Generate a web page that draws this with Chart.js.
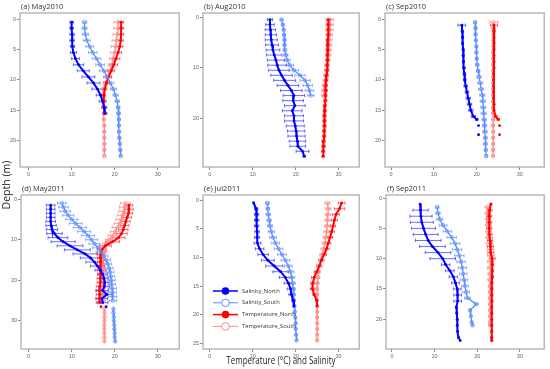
<!DOCTYPE html>
<html>
<head>
<meta charset="utf-8">
<script src="https://cdn.jsdelivr.net/npm/chart.js@4.4.1/dist/chart.umd.min.js"></script>
<style>
body { margin: 0; background: #fff; }
#wrap { position: relative; width: 550px; height: 369px; overflow: hidden; font-family: 'Open Sans', sans-serif; }
#wrap canvas { position: absolute; }
#ylab { position: absolute; left: -24px; top: 178px; width: 60px; text-align: center; font-size: 10.5px; color: #222; transform: rotate(-90deg); }
#xlab { position: absolute; left: 181px; top: 353px; width: 200px; text-align: center; font-size: 10px; color: #222; transform: scaleX(0.8); }
</style>
</head>
<body>
<div id="wrap">
  <canvas id="pa"></canvas>
  <canvas id="pb"></canvas>
  <canvas id="pc"></canvas>
  <canvas id="pd"></canvas>
  <canvas id="pe"></canvas>
  <canvas id="pf"></canvas>
  <div id="ylab">Depth (m)</div>
  <div id="xlab">Temperature (°C) and Salinity</div>
</div>
<script>
// 시리즈 이름
const seriesNames = ['Salinity_North', 'Salinity_South', 'Temperature_North', 'Temperature_South'];
const xTicks = [0, 10, 20, 30];

// (a) May2010
const aDepthN = [0.5,1.5,2.5,3.5,4.5,5.5,6.5,7.5,8.5,9.5,10.5,11.5,12.5,13.5,14.5,15.5];
const aSalN = [10.0,10.0,10.1,10.1,10.2,10.4,10.9,11.6,12.7,13.9,15.1,16.0,16.7,17.2,17.6,17.7];
const aSalNErr = [0.4,0.4,0.5,0.5,0.5,0.7,0.9,1.2,1.4,1.5,1.5,1.3,1.0,0.8,0.6,0.5];
const aTempN = [21.5,21.5,21.5,21.4,21.2,20.8,20.3,19.8,19.2,18.6,18.1,17.7,17.5,17.4,17.5,17.7];
const aTempNErr = [0.6,0.6,0.6,0.6,0.7,0.8,0.9,0.9,0.8,0.7,0.6,0.5,0.4,0.4,0.4,0.4];
const aDepthS = [0.5,1.5,2.5,3.5,4.5,5.5,6.5,7.5,8.5,9.5,10.5,11.5,12.5,13.5,14.5,15.5,16.5,17.5,18.5,19.5,20.5,21.5,22.5];
const aSalS = [13.0,13.0,13.2,13.5,14.2,14.9,15.8,16.6,17.5,18.3,19.0,19.7,20.2,20.6,20.8,20.9,21.0,21.0,21.0,21.1,21.2,21.3,21.4];
const aSalSErr = [0.5,0.6,0.7,0.8,0.9,1.0,1.0,1.0,1.0,0.9,0.8,0.7,0.6,0.5,0.4,0.4,0.3,0.3,0.3,0.3,0.3,0.3,0.3];
const aTempS = [20.8,20.8,20.6,20.4,20.2,20.0,19.7,19.3,18.9,18.3,17.8,17.4,17.4,17.4,17.4,17.5,17.5,17.6,17.6,17.6,17.6,17.6,17.6];
const aTempSErr = [1.0,1.0,1.0,1.0,1.0,1.0,0.9,0.8,0.7,0.6,0.5,0.4,0.3,0.3,0.3,0.3,0.3,0.3,0.3,0.3,0.3,0.3,0.3];

// (b) Aug2010
const bDepthN = [0.5,1.5,2.5,3.5,4.5,5.5,6.5,7.5,8.5,9.5,10.5,11.5,12.5,13.5,14.5,15.5,16.5,17.5,18.5,19.5,20.5,21.5,22.5,23.5,24.5,25.5,26.5,27.5];
const bSalN = [14.0,14.0,14.1,14.2,14.3,14.5,14.7,15.0,15.4,15.7,16.1,16.7,17.4,18.2,19.0,19.6,19.4,19.8,19.2,19.6,19.6,19.9,20.1,20.2,20.4,20.5,21.6,22.0];
const bSalNErr = [0.6,1.0,1.2,1.3,1.4,1.5,1.6,1.8,2.0,2.2,2.4,2.5,2.5,2.5,2.5,2.5,2.4,2.4,2.3,2.2,2.2,2.1,2.0,2.0,1.9,1.8,1.5,0.3];
const bTempN = [27.6,27.6,27.6,27.6,27.5,27.5,27.5,27.4,27.4,27.3,27.3,27.2,27.1,27.0,27.0,26.9,26.9,26.8,26.8,26.7,26.7,26.7,26.6,26.6,26.5,26.5,26.4,26.4];
const bTempNErr = [0.5,0.5,0.5,0.5,0.4,0.4,0.4,0.4,0.4,0.4,0.4,0.4,0.4,0.4,0.4,0.4,0.4,0.4,0.4,0.4,0.4,0.4,0.4,0.4,0.4,0.4,0.4,0.3];
const bDepthS = [0.5,1.5,2.5,3.5,4.5,5.5,6.5,7.5,8.5,9.5,10.5,11.5,12.5,13.5,14.5,15.5];
const bSalS = [16.7,17.0,17.2,17.3,17.4,17.4,17.5,17.7,18.0,18.6,19.6,21.0,22.2,22.8,23.2,23.5];
const bSalSErr = [0.3,0.3,0.3,0.3,0.3,0.3,0.4,0.5,0.7,0.9,1.1,1.2,1.2,1.1,1.0,0.8];
const bTempS = [28.0,28.0,27.9,27.9,27.8,27.8,27.7,27.6,27.5,27.3,27.2,27.0,26.9,26.7,26.6,26.5];
const bTempSErr = [0.8,0.8,0.8,0.7,0.7,0.6,0.6,0.6,0.5,0.5,0.5,0.5,0.5,0.5,0.5,0.5];

// (c) Sep2010  (null = 끊어진 구간)
const cDepthN = [1,2,3,4,5,6,7,8,9,10,11,12,13,14,15,16,16.5,17,17.5,18.2,19];
const cSalN = [16.5,16.6,16.7,16.7,16.8,16.8,16.9,17.0,17.1,17.2,17.4,17.7,18.0,18.3,18.6,19.2,20.0,null,20.4,null,20.4];
const cSalNErr = [0.9,0.2,0.2,0.2,0.2,0.2,0.2,0.3,0.3,0.3,0.4,0.4,0.5,0.5,0.5,0.5,0.3,0,0,0,0];
const cTempN = [24.0,24.0,24.0,24.0,24.0,24.0,24.0,24.0,23.9,23.9,23.9,23.9,23.9,24.0,24.0,24.4,25.0,null,25.3,null,25.3];
const cTempNErr = [0.8,0.3,0.2,0.2,0.2,0.2,0.2,0.2,0.2,0.2,0.2,0.2,0.2,0.2,0.2,0.3,0.3,0,0,0,0];
const cDepthS = [0.5,1.5,2.5,3.5,4.5,5.5,6.5,7.5,8.5,9.5,10.5,11.5,12.5,13.5,14.5,15.5,16.5,17.5,18.5,19.5,20.5,21.5,22.5];
const cSalS = [19.6,19.7,19.7,19.8,19.9,19.9,20.0,20.1,20.3,20.5,20.8,21.0,21.3,21.4,21.5,21.6,21.7,21.8,21.9,22.0,22.0,22.1,22.2];
const cSalSErr = [0.3,0.3,0.3,0.3,0.3,0.3,0.3,0.4,0.4,0.5,0.6,0.6,0.6,0.6,0.6,0.6,0.5,0.5,0.5,0.4,0.4,0.3,0.3];
const cTempS = [23.9,23.9,23.9,23.9,23.9,23.8,23.8,23.8,23.8,23.8,23.8,23.8,23.8,23.8,23.8,23.8,23.8,23.8,23.8,23.8,23.8,23.8,23.8];
const cTempSErr = [1.0,0.4,0.3,0.3,0.3,0.3,0.3,0.3,0.3,0.3,0.3,0.3,0.3,0.3,0.3,0.3,0.3,0.3,0.3,0.3,0.3,0.3,0.3];

// (d) May2011
const dDepthN = [1.5,2.5,3.5,4.5,5.5,6.5,7.5,8.5,9.5,10.5,11.5,12.5,13.5,14.5,15.5,16.5,17.5,18.5,19.5,20.5,21.5,22.5,23.5,24.5,25.5,26,26.5];
const dSalN = [5.1,5.1,5.1,5.1,5.1,5.2,5.4,6.0,6.8,8.0,9.6,11.3,13.1,14.4,15.3,16.0,16.7,17.2,17.5,17.7,17.6,17.2,18.2,17.0,17.2,null,18.0];
const dSalNErr = [1.0,1.0,1.0,1.0,1.1,1.2,1.3,1.8,2.3,2.8,3.0,3.0,2.8,2.4,2.0,1.6,1.3,1.1,1.0,1.0,1.2,1.4,1.4,1.3,1.2,0,0];
const dTempN = [23.3,23.3,23.2,22.9,22.6,22.3,22.0,21.6,20.9,19.5,17.8,17.0,16.8,16.7,16.7,16.7,16.7,16.7,16.6,16.6,16.5,16.4,16.5,16.4,16.5,null,16.8];
const dTempNErr = [0.9,1.0,1.0,1.0,1.0,1.0,1.1,1.3,1.5,1.6,1.4,1.0,0.8,0.7,0.7,0.7,0.7,0.7,0.7,0.7,0.8,0.8,0.8,0.8,0.8,0,0];
const dDepthS = [1,2,3,4,5,6,7,8,9,10,11,12,13,14,15,16,17,18,19,20,21,22,23,24,25,26,27,28,29,30,31,32,33,34,35];
const dSalS = [7.7,8.1,8.5,9.2,10.0,10.9,11.9,12.9,13.8,14.6,15.3,16.1,16.8,17.4,18.0,18.4,18.7,18.9,19.1,19.2,19.3,19.4,19.4,19.5,19.6,null,19.7,19.7,19.8,19.8,19.9,19.9,20.0,20.0,20.1];
const dSalSErr = [1.0,1.1,1.2,1.3,1.4,1.5,1.5,1.5,1.5,1.4,1.3,1.2,1.1,1.0,1.0,0.9,0.9,0.9,0.9,0.9,0.9,1.0,1.0,1.0,0.9,0,0.1,0.1,0.1,0.1,0.1,0.1,0.1,0.1,0.1];
const dTempS = [22.5,22.3,22.1,21.8,21.5,21.1,20.6,20.1,19.5,18.7,18.0,17.4,17.3,17.2,17.2,17.2,17.2,17.2,17.2,17.2,17.2,17.2,17.2,17.2,17.2,null,17.6,17.6,17.6,17.6,17.6,17.6,17.6,17.6,17.6];
const dTempSErr = [1.2,1.2,1.2,1.2,1.2,1.2,1.2,1.1,1.0,0.9,0.8,0.7,0.7,0.7,0.6,0.6,0.6,0.6,0.6,0.6,0.6,0.6,0.6,0.6,0.6,0,0.1,0.1,0.1,0.1,0.1,0.1,0.1,0.1,0.1];

// (e) Jul2011
const eDepthN = [0.5,1.5,2.5,3.5,4.5,5.5,6.5,7.5,8.5,9.5,10.5,11.5,12.5,13.5,14.5,15.5,16.5,17.5,18.5];
const eSalN = [10.2,10.8,10.9,10.9,10.9,11.0,11.0,11.1,11.6,12.4,13.5,15.0,16.5,17.6,18.3,18.8,19.0,19.4,19.6];
const eSalNErr = [0.1,0.4,0.5,0.5,0.5,0.5,0.6,0.8,1.0,1.2,1.5,2.0,1.8,1.4,1.0,0.8,0.6,0.3,0.2];
const eTempN = [30.7,30.2,29.4,29.0,28.7,28.4,28.0,27.6,27.2,26.6,26.0,25.5,24.9,24.3,24.0,23.9,24.3,24.9,25.0];
const eTempNErr = [0.8,1.2,0.8,0.7,0.6,0.6,0.6,0.6,0.6,0.6,0.6,0.6,0.6,0.6,0.5,0.5,0.3,0.2,0.2];
const eDepthS = [0.5,1.5,2.5,3.5,4.5,5.5,6.5,7.5,8.5,9.5,10.5,11.5,12.5,13.5,14.5,15.5,16.5,17.5,18.5,19.5,20.5,21.5,22.5,23.5,24.5];
const eSalS = [13.4,13.5,13.6,13.8,14.0,14.3,14.7,15.3,16.0,16.8,17.6,18.3,18.8,19.1,19.3,19.4,19.5,19.6,19.7,19.8,19.9,20.0,20.0,20.1,20.2];
const eSalSErr = [0.4,0.4,0.5,0.5,0.6,0.7,0.8,0.9,1.0,1.0,1.0,0.9,0.8,0.7,0.6,0.5,0.4,0.3,0.2,0.2,0.2,0.2,0.2,0.2,0.2];
const eTempS = [27.4,27.6,27.5,27.4,27.3,27.2,27.0,26.8,26.5,26.2,25.8,25.5,25.3,25.2,25.1,25.0,25.0,25.0,25.0,25.0,25.0,25.0,25.0,25.0,25.0];
const eTempSErr = [0.6,0.6,0.6,0.6,0.6,0.6,0.6,0.6,0.6,0.6,0.5,0.5,0.4,0.4,0.3,0.2,0.2,0.2,0.2,0.2,0.2,0.2,0.2,0.2,0.2];

// (f) Sep2011
const fDepthN = [1,2,3,4,5,6,7,8,9,10,11,12,13,14,15,16,17,18,19,20,21,22,23,23.5];
const fSalN = [6.6,6.7,6.8,7.0,7.4,7.9,8.5,9.5,10.8,11.9,12.6,13.6,14.4,14.9,15.3,15.4,15.4,15.1,15.2,15.3,15.3,15.4,15.6,16.0];
const fSalNErr = [0,1.8,2.6,2.7,2.8,2.9,3.0,3.0,3.0,3.0,1.0,1.0,1.0,0.9,0.9,0.9,0.9,0.1,0.1,0.1,0.1,0.1,0.1,0];
const fTempN = [23.2,22.9,22.8,22.8,22.8,22.9,23.0,23.1,23.2,23.5,23.5,23.5,23.5,23.4,23.4,23.4,23.4,23.4,23.4,23.4,23.4,23.4,23.4,23.4];
const fTempNErr = [0.2,0.6,0.6,0.6,0.6,0.6,0.6,0.7,0.7,0.7,0.4,0.3,0.3,0.3,0.3,0.3,0.3,0.2,0.2,0.2,0.2,0.2,0.2,0.2];
const fDepthS = [1.5,2.5,3.5,4.5,5.5,6.5,7.5,8.5,9.5,10.5,11.5,12.5,13.5,14.5,15.5,16.5,17.5,18.5,19.5,20.5,21];
const fSalS = [10.6,10.8,11.2,12.0,13.0,14.0,14.8,15.3,15.8,16.2,16.5,16.7,16.9,17.1,17.4,17.7,19.8,18.3,18.5,18.7,18.9];
const fSalSErr = [0.4,0.5,0.7,0.9,1.0,1.1,1.1,1.1,1.1,1.0,1.0,0.9,0.9,0.8,0.8,0.7,0.4,0.2,0.2,0.2,0.2];
const fTempS = [22.4,22.4,22.5,22.6,22.7,22.8,22.9,23.1,23.2,23.1,23.0,23.0,23.0,23.0,23.0,23.0,23.0,23.0,23.0,23.0,23.0];
const fTempSErr = [0.6,0.6,0.6,0.7,0.7,0.8,0.8,0.8,0.8,0.7,0.6,0.5,0.5,0.4,0.4,0.4,0.3,0.3,0.3,0.3,0.3];

// 색상
const colSN = '#0000ff', colSS = '#5a8cff', colTN = '#ff0000', colTS = '#ff8a8a';
const errSN = 'rgba(30,30,255,0.65)', errSS = 'rgba(90,140,255,0.65)', errTN = 'rgba(255,30,30,0.65)', errTS = 'rgba(255,130,130,0.7)';

function toPts(depths, vals) {
    return depths.map((d, i) => ({ x: vals[i], y: d }));
}

function makeSet(name, depths, vals, errs, color, errColor, open) {
    return {
        label: name,
        data: toPts(depths, vals),
        errs: errs,
        errColor: errColor,
        borderColor: color,
        backgroundColor: open ? 'rgba(255,255,255,0)' : color,
        pointBorderColor: color,
        pointBackgroundColor: open ? 'rgba(255,255,255,0)' : color,
        pointRadius: open ? 1.7 : 1.4,
        pointBorderWidth: open ? 0.8 : 0,
        borderWidth: open ? 1.3 : 2,
        showLine: true,
        spanGaps: false,
        tension: 0
    };
}

// 오차 막대 (가로) - 스케일로 좌표 계산
const errorBars = {
    id: 'errorBars',
    beforeDatasetsDraw(chart) {
        const ctx = chart.ctx, xs = chart.scales.x, ys = chart.scales.y;
        ctx.save();
        ctx.lineWidth = 1;
        chart.data.datasets.forEach(ds => {
            ctx.strokeStyle = ds.errColor;
            ds.data.forEach((p, i) => {
                const e = ds.errs[i];
                if (p.x == null || !e) return;
                const x1 = xs.getPixelForValue(p.x - e), x2 = xs.getPixelForValue(p.x + e);
                const y = ys.getPixelForValue(p.y);
                ctx.beginPath();
                ctx.moveTo(x1, y); ctx.lineTo(x2, y);
                ctx.moveTo(x1, y - 1.6); ctx.lineTo(x1, y + 1.6);
                ctx.moveTo(x2, y - 1.6); ctx.lineTo(x2, y + 1.6);
                ctx.stroke();
            });
        });
        ctx.restore();
    }
};

// 테두리 + 패널 제목
const frameTitle = {
    id: 'frameTitle',
    afterDraw(chart, args, opts) {
        const a = chart.chartArea, ctx = chart.ctx;
        ctx.save();
        ctx.strokeStyle = '#b4b4b4';
        ctx.lineWidth = 1.4;
        ctx.strokeRect(a.left, a.top, a.right - a.left, a.bottom - a.top);
        ctx.fillStyle = '#333';
        ctx.font = '7.5px "Open Sans", sans-serif';
        ctx.textBaseline = 'bottom';
        ctx.fillText(opts.text, a.left + 1, a.top - 2);
        ctx.restore();
    }
};

// 범례 (e 패널 안쪽)
const insideLegend = {
    id: 'insideLegend',
    afterDraw(chart, args, opts) {
        if (!opts.show) return;
        const a = chart.chartArea, ctx = chart.ctx;
        ctx.save();
        chart.data.datasets.forEach((ds, i) => {
            const y = a.top + 96 + i * 11.8;
            const x0 = a.left + 10;
            const open = ds.pointBackgroundColor === 'rgba(255,255,255,0)';
            ctx.strokeStyle = ds.borderColor;
            ctx.lineWidth = open ? 1 : 1.5;
            ctx.beginPath(); ctx.moveTo(x0, y); ctx.lineTo(x0 + 25, y); ctx.stroke();
            ctx.beginPath(); ctx.arc(x0 + 12.5, y, 3.8, 0, Math.PI * 2);
            if (open) { ctx.fillStyle = '#fff'; ctx.fill(); ctx.stroke(); }
            else { ctx.fillStyle = ds.borderColor; ctx.fill(); }
            ctx.fillStyle = '#333';
            ctx.font = '5.8px "Open Sans", sans-serif';
            ctx.textBaseline = 'middle';
            ctx.fillText(ds.label, x0 + 29, y);
        });
        ctx.restore();
    }
};

function makePanel(id, title, frame, xMin, xMax, yMin, yMax, yTicks, sets, legend) {
    const [L, T, R, B] = frame;
    const cv = document.getElementById(id);
    const w = R - L + 18 + 1, h = B - T + 13 + 12;
    cv.width = w; cv.height = h;
    cv.style.left = (L - 18) + 'px';
    cv.style.top = (T - 13) + 'px';
    cv.style.width = w + 'px';
    cv.style.height = h + 'px';
    return new Chart(cv.getContext('2d'), {
        type: 'scatter',
        data: { datasets: sets },
        options: {
            responsive: false,
            animation: false,
            devicePixelRatio: 1,
            layout: { padding: { top: 13, right: 1, left: 0, bottom: 0 } },
            plugins: {
                legend: { display: false },
                tooltip: { enabled: false },
                frameTitle: { text: title },
                insideLegend: { show: !!legend }
            },
            scales: {
                x: {
                    type: 'linear', min: xMin, max: xMax,
                    afterFit(s) { s.height = 12; },
                    afterBuildTicks(s) { s.ticks = xTicks.map(v => ({ value: v })); },
                    grid: { drawOnChartArea: false, tickLength: 3, color: '#888' },
                    border: { display: false },
                    ticks: { font: { size: 5.5 }, color: '#666', padding: 1, maxRotation: 0 }
                },
                y: {
                    type: 'linear', reverse: true, min: yMin, max: yMax,
                    afterFit(s) { s.width = 18; },
                    afterBuildTicks(s) { s.ticks = yTicks.map(v => ({ value: v })); },
                    grid: { drawOnChartArea: false, tickLength: 3, color: '#888' },
                    border: { display: false },
                    ticks: { font: { size: 5.5 }, color: '#666', padding: 1 }
                }
            }
        },
        plugins: [errorBars, frameTitle, insideLegend]
    });
}

function fourSets(dN, sN, sNe, tN, tNe, dS, sS, sSe, tS, tSe) {
    return [
        makeSet(seriesNames[0], dN, sN, sNe, colSN, errSN, false),
        makeSet(seriesNames[1], dS, sS, sSe, colSS, errSS, true),
        makeSet(seriesNames[2], dN, tN, tNe, colTN, errTN, false),
        makeSet(seriesNames[3], dS, tS, tSe, colTS, errTS, true)
    ];
}

const chartA = makePanel('pa', '(a) May2010', [20, 13, 183, 167], -2, 35, -1, 24.3, [0, 5, 10, 15, 20],
    fourSets(aDepthN, aSalN, aSalNErr, aTempN, aTempNErr, aDepthS, aSalS, aSalSErr, aTempS, aTempSErr));
const chartB = makePanel('pb', '(b) Aug2010', [203, 13, 363, 167], -1.6, 34.8, -0.8, 29.6, [0, 10, 20],
    fourSets(bDepthN, bSalN, bSalNErr, bTempN, bTempNErr, bDepthS, bSalS, bSalSErr, bTempS, bTempSErr));
const chartC = makePanel('pc', '(c) Sep2010', [385, 13, 548, 167], -1.4, 35.7, -1, 24.3, [0, 5, 10, 15, 20],
    fourSets(cDepthN, cSalN, cSalNErr, cTempN, cTempNErr, cDepthS, cSalS, cSalSErr, cTempS, cTempSErr));
const chartD = makePanel('pd', '(d) May2011', [21, 195, 183, 349], -1.8, 35, -1, 36.9, [0, 10, 20, 30],
    fourSets(dDepthN, dSalN, dSalNErr, dTempN, dTempNErr, dDepthS, dSalS, dSalSErr, dTempS, dTempSErr));
const chartE = makePanel('pe', '(e) Jul2011', [203, 195, 363, 349], -1.6, 34.8, -0.9, 26, [0, 5, 10, 15, 20, 25],
    fourSets(eDepthN, eSalN, eSalNErr, eTempN, eTempNErr, eDepthS, eSalS, eSalSErr, eTempS, eTempSErr), true);
const chartF = makePanel('pf', '(f) Sep2011', [386, 195, 548, 349], -1.4, 35.7, -0.5, 24.9, [0, 5, 10, 15, 20],
    fourSets(fDepthN, fSalN, fSalNErr, fTempN, fTempNErr, fDepthS, fSalS, fSalSErr, fTempS, fTempSErr));
</script>
</body>
</html>
